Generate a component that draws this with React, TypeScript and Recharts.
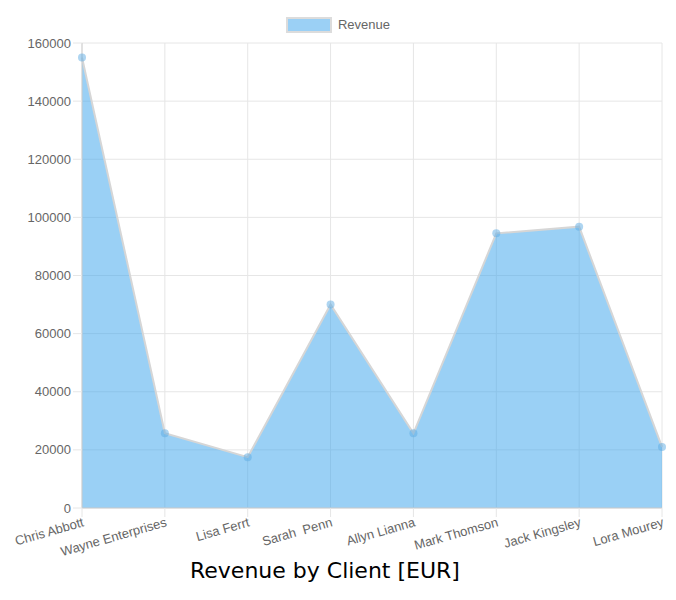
import React from "react";
import {
  AreaChart,
  Area,
  XAxis,
  YAxis,
  CartesianGrid,
  Legend,
} from "recharts";

const clients = [
  "Chris Abbott",
  "Wayne Enterprises",
  "Lisa Ferrt",
  "Sarah  Penn",
  "Allyn Lianna",
  "Mark Thomson",
  "Jack Kingsley",
  "Lora Mourey",
];
const revenue = [155000, 25700, 17500, 70000, 25700, 94500, 96800, 21000];
const yTicks = [0, 20000, 40000, 60000, 80000, 100000, 120000, 140000, 160000];

const FONT = '"Liberation Sans", Arial, Helvetica, sans-serif';
const GRID = "#e6e6e6";

function ClientTick({ x, y, payload }: any) {
  return (
    <g transform={`translate(${x},${y}) rotate(-16)`}>
      <text
        x={0}
        y={0}
        dy="0.72em"
        textAnchor="end"
        fill="#666"
        fontSize={13}
        fontFamily={FONT}
        style={{ whiteSpace: "pre" }}
      >
        {payload.value}
      </text>
    </g>
  );
}

function RevenueLegend() {
  return (
    <div
      style={{
        height: 30,
        display: "flex",
        justifyContent: "center",
        alignItems: "flex-start",
        paddingTop: 4,
        paddingLeft: 14,
        boxSizing: "border-box",
        fontFamily: FONT,
        fontSize: 13,
        color: "#666",
      }}
    >
      <span
        style={{
          display: "inline-block",
          width: 42,
          height: 12,
          background: "#9BD0F5",
          border: "2px solid #dcdcdc",
          marginRight: 6,
        }}
      />
      <span style={{ lineHeight: "16px" }}>Revenue</span>
    </div>
  );
}

export default function App() {
  const data = clients.map((name, i) => ({ name, revenue: revenue[i] }));

  return (
    <div
      style={{
        position: "absolute",
        left: 0,
        top: 0,
        width: 676,
        height: 600,
        background: "#fff",
      }}
    >
      <AreaChart
        width={676}
        height={560}
        data={data}
        margin={{ top: 13, right: 14, bottom: 0, left: 0 }}
      >
        <CartesianGrid stroke={GRID} />
        <Legend verticalAlign="top" height={30} content={<RevenueLegend />} />
        <XAxis
          dataKey="name"
          height={52}
          interval={0}
          tickSize={9}
          tickMargin={0}
          tickLine={{ stroke: GRID }}
          axisLine={{ stroke: "#cfcfcf" }}
          tick={<ClientTick />}
        />
        <YAxis
          width={82}
          domain={[0, 160000]}
          ticks={yTicks}
          interval={0}
          tickSize={9}
          tickMargin={2}
          tickLine={{ stroke: GRID }}
          axisLine={{ stroke: "#cfcfcf" }}
          tick={{ fill: "#666", fontSize: 13, fontFamily: FONT }}
        />
        <Area
          type="linear"
          dataKey="revenue"
          name="Revenue"
          stroke="#d6d6d6"
          strokeWidth={2}
          fill="rgb(54,162,235)"
          fillOpacity={0.5}
          dot={{ r: 4, fill: "#5eabe4", stroke: "none" }}
          activeDot={false}
          isAnimationActive={false}
        />
      </AreaChart>
      <div
        style={{
          position: "absolute",
          left: 190,
          top: 560,
          fontFamily: '"DejaVu Sans", Verdana, sans-serif',
          fontSize: 22,
          lineHeight: "22px",
          color: "#000",
          whiteSpace: "nowrap",
        }}
      >
        Revenue by Client [EUR]
      </div>
    </div>
  );
}
